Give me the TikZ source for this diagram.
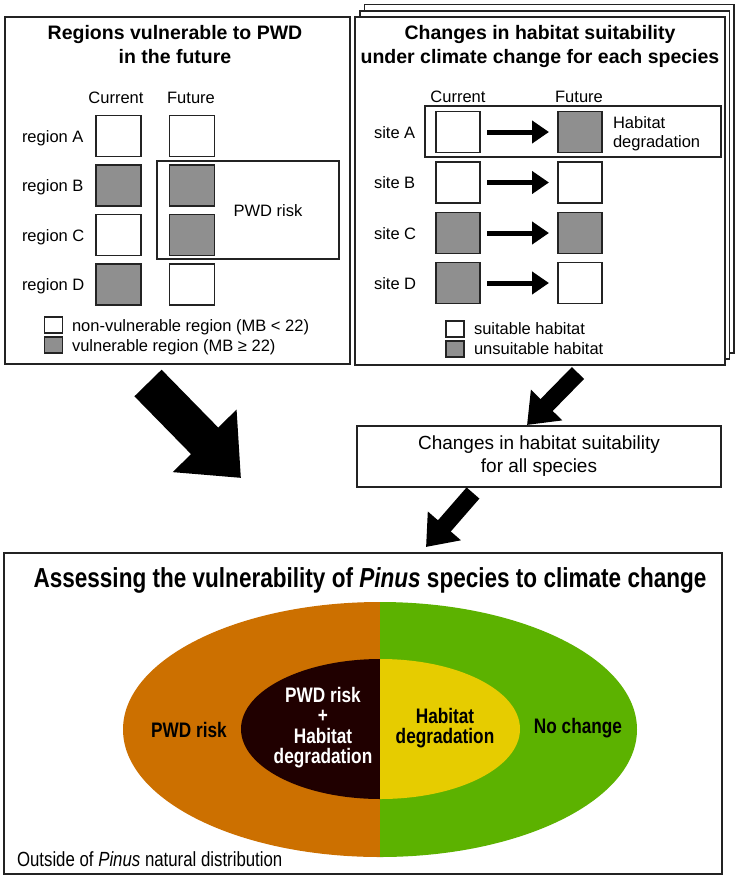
\documentclass[tikz,border=0pt]{standalone}
\usepackage{fontspec}
\setmainfont{Liberation Sans}
\newfontfamily\narrowfont{Liberation Sans}[FakeStretch=0.82]
\usetikzlibrary{arrows.meta}
\definecolor{sqgray}{RGB}{143,143,143}
\definecolor{linec}{RGB}{35,35,35}
\definecolor{orng}{RGB}{204,112,0}
\definecolor{grn}{RGB}{92,178,0}
\definecolor{drk}{RGB}{32,0,0}
\definecolor{ylw}{RGB}{230,204,0}
\tikzset{
 panel/.style={draw=linec, line width=1.6pt, fill=white, inner sep=0pt, outer sep=0pt, anchor=north west},
 wsq/.style={draw=linec, line width=1.4pt, fill=white, inner sep=0pt, outer sep=0pt, minimum width=45pt, minimum height=41pt},
 gsq/.style={wsq, fill=sqgray},
 wleg/.style={draw=linec, line width=1.2pt, fill=white, inner sep=0pt, outer sep=0pt, minimum width=18pt, minimum height=16pt},
 gleg/.style={wleg, fill=sqgray},
 txt/.style={inner sep=0pt, outer sep=0pt, font=\fontsize{16.5}{19.8}\selectfont, anchor=base west},
 ctxt/.style={txt, anchor=base},
 ttl/.style={inner sep=0pt, outer sep=0pt, anchor=base, font=\bfseries\fontsize{19.5}{23.4}\selectfont},
 elab/.style={inner sep=0pt, outer sep=0pt, align=center, font=\narrowfont\bfseries\fontsize{21}{20.5}\selectfont},
 harrow/.style={line width=5pt, -{Triangle[length=17pt,width=22pt]}},
 fatarrow/.style={line width=38pt, -{Triangle[length=52pt,width=86pt]}},
 medarrow/.style={line width=17pt, -{Triangle[length=28pt,width=42pt]}},
}
\begin{document}
\begin{tikzpicture}[x=1pt,y=-1pt]
\useasboundingbox (0,0) rectangle (739,879);
\fill[white] (0,0) rectangle (739,879);

% ---------- left panel ----------
\node[panel, minimum width=345pt, minimum height=347pt] (left) at (5,17) {};
\node[ttl] (lt1) at (175,39) {Regions vulnerable to PWD};
\node[ttl] (lt2) at (175,63) {in the future};
\node[ctxt] (lcur) at (116,103) {Current};
\node[ctxt] (lfut) at (191,103) {Future};

\node[panel, minimum width=182pt, minimum height=98pt, line width=1.4pt] (pwdbox) at (157,161) {};
\node[ctxt] (pwdtxt) at (268,216) {PWD risk};

\node[wsq] (rA1) at (118.5,136) {};
\node[wsq] (rA2) at (192,136) {};
\node[gsq] (rB1) at (118.5,185.5) {};
\node[gsq] (rB2) at (192,185.5) {};
\node[wsq] (rC1) at (118.5,235) {};
\node[gsq] (rC2) at (192,235) {};
\node[gsq] (rD1) at (118.5,284.5) {};
\node[wsq] (rD2) at (192,284.5) {};
\node[txt] (lA) at (22,142) {region A};
\node[txt] (lB) at (22,191.5) {region B};
\node[txt] (lC) at (22,241) {region C};
\node[txt] (lD) at (22,290.5) {region D};

\node[wleg] (lleg1) at (53.5,325) {};
\node[gleg] (lleg2) at (53.5,345) {};
\node[txt] (llt1) at (72,331) {non-vulnerable region (MB < 22)};
\node[txt] (llt2) at (72,351) {vulnerable region (MB ≥ 22)};

% ---------- right panel (stack) ----------
\node[panel, minimum width=369.5pt, minimum height=348.5pt] (back2) at (364.5,4.5) {};
\node[panel, minimum width=369.5pt, minimum height=348pt] (back1) at (360,11) {};
\node[panel, minimum width=370pt, minimum height=348pt] (right) at (355,17) {};
\node[ttl] (rt1) at (540,39) {Changes in habitat suitability};
\node[ttl] (rt2) at (540,63) {under climate change for each species};
\node[ctxt] (rcur) at (458,102) {Current};
\node[ctxt] (rfut) at (579,102) {Future};

\node[panel, minimum width=296pt, minimum height=51pt, line width=1.4pt] (degbox) at (425,106) {};
\node[txt] (deg1) at (613,128) {Habitat};
\node[txt] (deg2) at (613,147) {degradation};

\node[wsq, minimum width=44pt] (sA1) at (458,132) {};
\node[gsq, minimum width=44pt] (sA2) at (580,132) {};
\node[wsq, minimum width=44pt] (sB1) at (458,182.5) {};
\node[wsq, minimum width=44pt] (sB2) at (580,182.5) {};
\node[gsq, minimum width=44pt] (sC1) at (458,233) {};
\node[gsq, minimum width=44pt] (sC2) at (580,233) {};
\node[gsq, minimum width=44pt] (sD1) at (458,283) {};
\node[wsq, minimum width=44pt] (sD2) at (580,283) {};
\foreach \r in {A,B,C,D}{
  \draw[harrow, shorten <=7pt, shorten >=9pt] (s\r1) -- (s\r2);
}
\node[txt] (stA) at (374,138) {site A};
\node[txt] (stB) at (374,188.5) {site B};
\node[txt] (stC) at (374,239) {site C};
\node[txt] (stD) at (374,289) {site D};

\node[wleg] (rleg1) at (455,329) {};
\node[gleg] (rleg2) at (455,349) {};
\node[txt] (rlt1) at (474,334) {suitable habitat};
\node[txt] (rlt2) at (474,354) {unsuitable habitat};

% ---------- all species box ----------
\node[panel, minimum width=364pt, minimum height=61pt] (allsp) at (357,426) {};
\node[inner sep=0pt, anchor=base, font=\fontsize{19}{23}\selectfont] (as1) at (539,449) {Changes in habitat suitability};
\node[inner sep=0pt, anchor=base, font=\fontsize{19}{23}\selectfont] (as2) at (539,472) {for all species};

% ---------- bottom panel ----------
\node[panel, minimum width=718pt, minimum height=321pt] (bottom) at (4,553) {};
\node[inner sep=0pt, anchor=base, font=\narrowfont\bfseries\fontsize{27.5}{30}\selectfont] (bt) at (370,587)
  {Assessing the vulnerability of \textit{Pinus} species to climate change};

\begin{scope}
  \clip (0,0) rectangle (380,879);
  \fill[orng] (380,729.5) ellipse [x radius=257, y radius=127.5];
  \fill[drk] (380.5,729) ellipse [x radius=139.5, y radius=70];
\end{scope}
\begin{scope}
  \clip (380,0) rectangle (739,879);
  \fill[grn] (380,729.5) ellipse [x radius=257, y radius=127.5];
  \fill[ylw] (380.5,729) ellipse [x radius=139.5, y radius=70];
\end{scope}

\node[elab] (e1) at (189,730) {PWD risk};
\node[elab] (e2) at (578,728) {No change};
\node[elab, text=white] (e3) at (323,727.5) {PWD risk\\+\\Habitat\\degradation};
\node[elab] (e4) at (445,728) {Habitat\\degradation};
\node[txt, font=\narrowfont\fontsize{20.5}{24}\selectfont] (outside) at (17,866) {Outside of \textit{Pinus} natural distribution};

% ---------- big arrows ----------
\coordinate (fa1) at (148,383);
\coordinate (fa2) at (241,478);
\draw[fatarrow] (fa1) -- (fa2);
\coordinate (ma1) at (578,373);
\coordinate (ma2) at (527,425);
\draw[medarrow] (ma1) -- (ma2);
\coordinate (mb1) at (473,493);
\coordinate (mb2) at (426,547);
\draw[medarrow] (mb1) -- (mb2);
\end{tikzpicture}
\end{document}
